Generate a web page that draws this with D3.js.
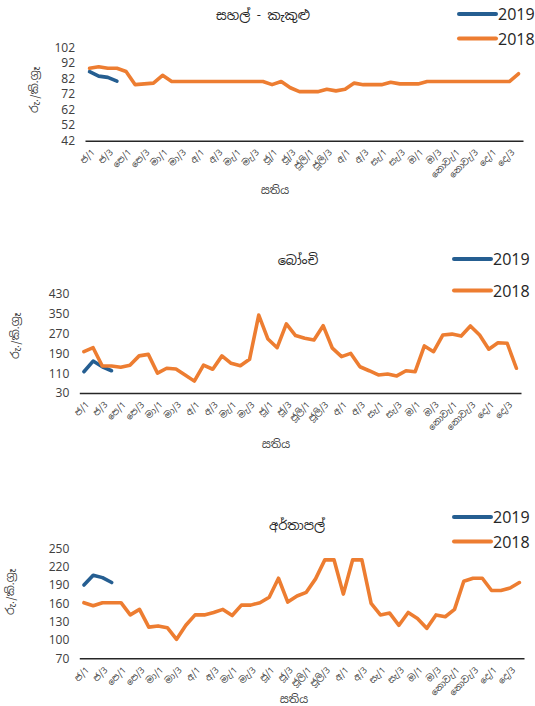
<!DOCTYPE html>
<html>
<head>
<meta charset="utf-8">
<script src="https://cdn.jsdelivr.net/npm/d3@7"></script>
<style>
body { margin: 0; background: #fff; }
svg text { font-family: "Noto Sans Sinhala", "Liberation Sans", sans-serif; fill: #404040; }
</style>
</head>
<body>
<svg width="535" height="706"></svg>
<script>
// weekly categories (month / week)
const weeks = [
  "ජ/1","ජ/2","ජ/3","ජ/4","පෙ/1","පෙ/2","පෙ/3","පෙ/4",
  "මා/1","මා/2","මා/3","මා/4","අ/1","අ/2","අ/3","අ/4",
  "මැ/1","මැ/2","මැ/3","මැ/4","ජූ/1","ජූ/2","ජූ/3","ජූ/4",
  "ජූලි/1","ජූලි/2","ජූලි/3","ජූලි/4","අ/1","අ/2","අ/3","අ/4",
  "සැ/1","සැ/2","සැ/3","සැ/4","ඔ/1","ඔ/2","ඔ/3","ඔ/4",
  "නොවැ/1","නොවැ/2","නොවැ/3","නොවැ/4","දෙ/1","දෙ/2","දෙ/3","දෙ/4"
];
const seriesNames = ["2019", "2018"];

const rice2019 = [86.3, 83.5, 82.7, 80.3];
const rice2018 = [88.5, 89.5, 88.5, 88.5, 86.5, 78, 78.5, 79, 84, 80,
  80, 80, 80, 80, 80, 80, 80, 80, 80, 80,
  78, 80, 76, 73.5, 73.5, 73.5, 75, 74, 75, 79,
  78, 78, 78, 79.5, 78.5, 78.5, 78.5, 80, 80, 80,
  80, 80, 80, 80, 80, 80, 80, 85];
const riceTicks = [42, 52, 62, 72, 82, 92, 102];

const beans2019 = [116, 159, 136, 120];
const beans2018 = [197, 213, 139, 139, 134, 142, 180, 186, 110, 130,
  127, 103, 78, 143, 126, 180, 150, 140, 166, 345,
  248, 213, 309, 262, 251, 244, 302, 211, 177, 190,
  136, 120, 103, 107, 99, 120, 116, 220, 197, 264,
  268, 260, 301, 264, 207, 233, 231, 130];
const beansTicks = [30, 110, 190, 270, 350, 430];

const potato2019 = [190, 206, 202, 194];
const potato2018 = [161, 156, 161, 161, 161, 141, 150, 121, 123, 120,
  101, 124, 141, 141, 145, 150, 140, 157, 157, 161,
  170, 201, 162, 172, 178, 200, 231, 231, 175, 231,
  231, 160, 141, 144, 124, 145, 135, 119, 141, 138,
  150, 196, 201, 201, 181, 181, 185, 194];
const potatoTicks = [70, 100, 130, 160, 190, 220, 250];

const colors = ["#255E91", "#ED7D31"];
const svg = d3.select("svg");

function drawChart(o) {
  var x = d3.scalePoint()
    .domain(d3.range(weeks.length))
    .range([o.left, o.right])
    .padding(0.5);
  var y = d3.scaleLinear()
    .domain([o.ticks[0], o.ticks[o.ticks.length - 1]])
    .range([o.bottom, o.top]);

  // y labels
  svg.append("g")
    .attr("transform", "translate(" + o.left + ",0)")
    .call(d3.axisLeft(y).tickValues(o.ticks).tickSize(0).tickPadding(10))
    .call(g => g.select(".domain").remove())
    .selectAll("text")
    .attr("font-size", 12)
    .attr("font-family", "Liberation Sans, sans-serif");

  // x axis
  var xa = svg.append("g")
    .attr("transform", "translate(0," + o.bottom + ")")
    .call(d3.axisBottom(x)
      .tickValues(d3.range(0, weeks.length, 2))
      .tickFormat(i => weeks[i])
      .tickSize(0));
  xa.select(".domain").attr("stroke", "#262626").attr("stroke-width", 1.4);
  xa.selectAll("text")
    .attr("font-size", 9)
    .attr("text-anchor", "end")
    .attr("x", 0).attr("y", 0).attr("dy", "0.35em")
    .attr("transform", "translate(3,10) rotate(-45)");

  var line = d3.line().x((d, i) => x(i)).y(d => y(d));
  [o.s2019, o.s2018].forEach(function(s, k) {
    svg.append("path")
      .datum(s)
      .attr("fill", "none")
      .attr("stroke", colors[k])
      .attr("stroke-width", 3.6)
      .attr("stroke-linejoin", "round")
      .attr("stroke-linecap", "round")
      .attr("d", line);
  });

  // title
  svg.append("text")
    .attr("x", o.titleX).attr("y", o.titleY)
    .attr("text-anchor", "middle")
    .attr("font-size", 13)
    .style("fill", "#262626")
    .text(o.title);

  // axis titles
  svg.append("text")
    .attr("transform", "translate(" + o.yTitleX + "," + o.yTitleY + ") rotate(-90)")
    .attr("text-anchor", "middle")
    .attr("font-size", 11)
    .text("රු./කි.ග්‍රෑ");
  svg.append("text")
    .attr("x", o.xTitleX).attr("y", o.xTitleY)
    .attr("text-anchor", "middle")
    .attr("font-size", 11)
    .text("සතිය");

  // legend
  seriesNames.forEach(function(n, k) {
    var ly = o.legendY[k];
    svg.append("line")
      .attr("x1", o.legendX).attr("x2", o.legendX + 37)
      .attr("y1", ly).attr("y2", ly)
      .attr("stroke", colors[k]).attr("stroke-width", 4)
      .attr("stroke-linecap", "round");
    svg.append("text")
      .attr("x", o.legendX + 39).attr("y", ly + 6)
      .attr("font-size", 16)
      .attr("font-family", "Liberation Sans, sans-serif")
      .style("fill", "#262626")
      .text(n);
  });
}

drawChart({
  title: "සහල් - කැකුළු", s2019: rice2019, s2018: rice2018, ticks: riceTicks,
  left: 85, right: 523, top: 47.3, bottom: 140.7,
  titleX: 263, titleY: 20, yTitleX: 38, yTitleY: 90, xTitleX: 275, xTitleY: 194,
  legendX: 459, legendY: [14, 38.5]
});
drawChart({
  title: "බෝංචි", s2019: beans2019, s2018: beans2018, ticks: beansTicks,
  left: 79.3, right: 521, top: 294, bottom: 393,
  titleX: 298, titleY: 265, yTitleX: 19, yTitleY: 336, xTitleX: 276, xTitleY: 448,
  legendX: 454, legendY: [259, 290.5]
});
drawChart({
  title: "අර්තාපල්", s2019: potato2019, s2018: potato2018, ticks: potatoTicks,
  left: 79.3, right: 524, top: 548.3, bottom: 658.3,
  titleX: 297, titleY: 530, yTitleX: 14, yTitleY: 592, xTitleX: 294, xTitleY: 703,
  legendX: 454, legendY: [517, 541.6]
});
</script>
</body>
</html>
